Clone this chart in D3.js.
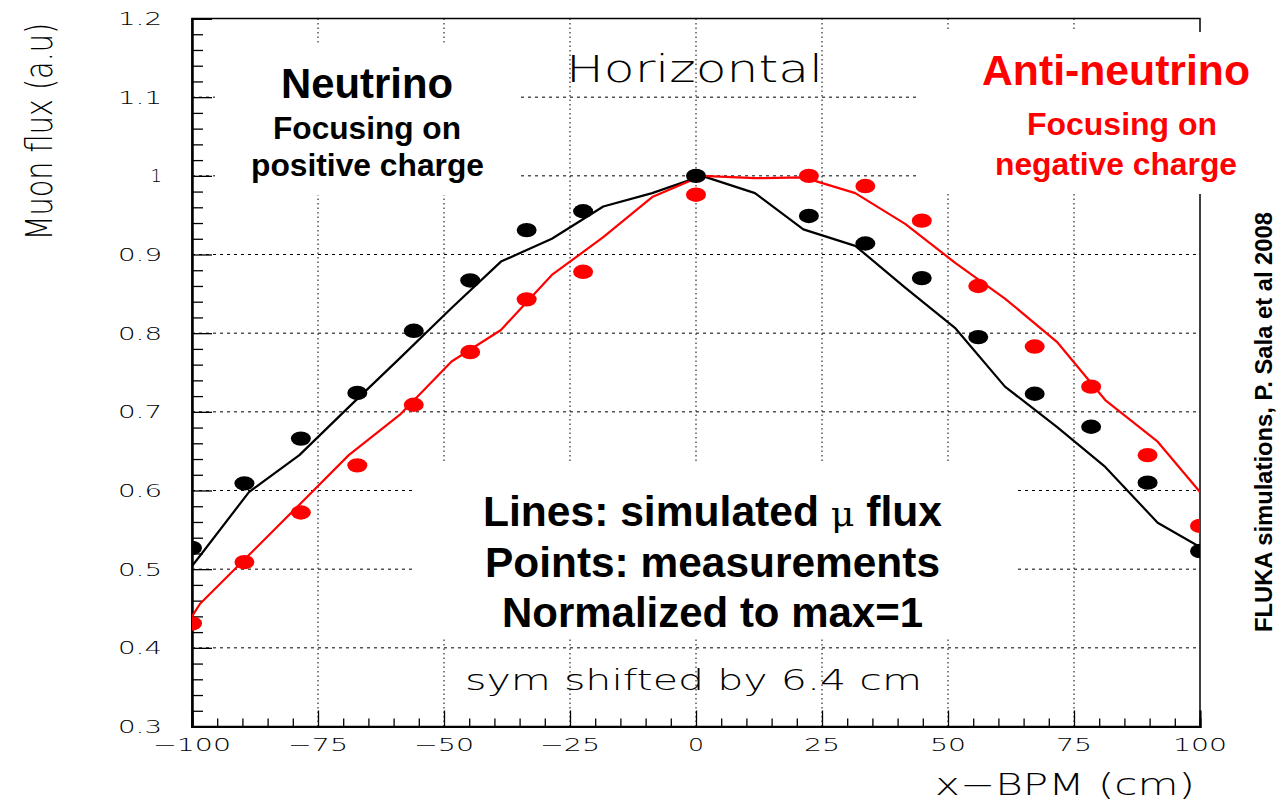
<!DOCTYPE html>
<html>
<head>
<meta charset="utf-8">
<script src="https://cdn.jsdelivr.net/npm/d3@7"></script>
<style>
html,body{margin:0;padding:0;background:#fff;}
svg{display:block;}
</style>
</head>
<body>
<svg id="chart" width="1278" height="804"></svg>
<script>
// ---------------- data ----------------
const pointX = [-100, -89.6, -78.4, -67.2, -56, -44.8, -33.6, -22.4, 0, 22.4, 33.6, 44.8, 56, 67.2, 78.4, 89.6, 100];
const neutrinoPoints = [0.527, 0.609, 0.666, 0.724, 0.803, 0.867, 0.931, 0.955, 1.0, 0.949, 0.914, 0.870, 0.795, 0.723, 0.681, 0.610, 0.523];
const antiNeutrinoPoints = [0.431, 0.509, 0.572, 0.632, 0.709, 0.776, 0.843, 0.878, 0.976, 1.0, 0.987, 0.943, 0.860, 0.783, 0.732, 0.645, 0.555];

const simX = [-100, -98.4, -88.7, -78.7, -68.9, -58.8, -48.5, -38.7, -28.6, -18.4, -8.7, 1.2, 11.7, 21.3, 31.6, 41.5, 51.5, 61.3, 71.6, 81.2, 91.6, 100];
const neutrinoSim = [0.504, 0.517, 0.598, 0.645, 0.706, 0.768, 0.832, 0.891, 0.920, 0.961, 0.978, 1.0, 0.978, 0.932, 0.911, 0.858, 0.806, 0.732, 0.681, 0.630, 0.559, 0.528];
const antiNeutrinoSim = [0.440, 0.456, 0.518, 0.582, 0.645, 0.696, 0.764, 0.804, 0.874, 0.922, 0.973, 1.0, 0.997, 0.998, 0.978, 0.939, 0.889, 0.844, 0.789, 0.715, 0.662, 0.598];

const xTickValues = [-100, -75, -50, -25, 0, 25, 50, 75, 100];
const xTickLabels = ["\u2212100", "\u221275", "\u221250", "\u221225", "0", "25", "50", "75", "100"];
const yTickValues = [0.3, 0.4, 0.5, 0.6, 0.7, 0.8, 0.9, 1.0, 1.1, 1.2];
const yTickLabels = ["0.3", "0.4", "0.5", "0.6", "0.7", "0.8", "0.9", "1", "1.1", "1.2"];

// ---------------- layout ----------------
const svg = d3.select("#chart");
const L = 192, R = 1200, T = 18.5, B = 726.5;
const x = d3.scaleLinear().domain([-100, 100]).range([L, R]);
const y = d3.scaleLinear().domain([0.3, 1.2]).range([B, T]);

svg.append("defs").append("clipPath").attr("id", "plotclip")
  .append("rect").attr("x", L).attr("y", T).attr("width", R - L).attr("height", B - T);

// grid
const grid = svg.append("g");
grid.selectAll("line.v").data(xTickValues.slice(1, -1)).join("line")
  .attr("x1", d => x(d)).attr("x2", d => x(d)).attr("y1", T).attr("y2", B)
  .attr("stroke", "#000").attr("stroke-width", 1).attr("stroke-dasharray", "1.5,3");
grid.selectAll("line.h").data(yTickValues.slice(1, -1)).join("line")
  .attr("x1", L).attr("x2", R).attr("y1", d => y(d)).attr("y2", d => y(d))
  .attr("stroke", "#000").attr("stroke-width", 1).attr("stroke-dasharray", "3,4");

// frame
svg.append("rect").attr("x", L).attr("y", T).attr("width", R - L).attr("height", B - T)
  .attr("fill", "none").attr("stroke", "#000").attr("stroke-width", 1.5);

// axes (ticks only; labels drawn separately)
const xMinor = d3.range(-100, 100.1, 5).filter(v => v % 25 !== 0);
const yMinor = d3.range(0, 46).map(i => +(0.3 + i * 0.02).toFixed(2)).filter(v => Math.abs(v * 10 - Math.round(v * 10)) > 1e-6);

const ax = svg.append("g").attr("transform", `translate(0,${B})`);
ax.call(d3.axisBottom(x).tickValues(xTickValues).tickSize(-16).tickFormat(""));
ax.append("g").call(d3.axisBottom(x).tickValues(xMinor).tickSize(-8).tickFormat(""));
ax.selectAll(".domain").attr("stroke-width", 2);
ax.selectAll("line").attr("stroke-width", 1.3);

const ay = svg.append("g").attr("transform", `translate(${L},0)`);
ay.call(d3.axisLeft(y).tickValues(yTickValues).tickSize(-20).tickFormat(""));
ay.append("g").call(d3.axisLeft(y).tickValues(yMinor).tickSize(-11).tickFormat(""));
ay.selectAll(".domain").attr("stroke-width", 2);
ay.selectAll("line").attr("stroke-width", 1.3);

// tick labels
const tickFont = "'DejaVu Sans', sans-serif";
svg.append("g").selectAll("text").data(xTickValues).join("text")
  .attr("x", d => x(d)).attr("y", 750.5)
  .attr("text-anchor", "middle")
  .attr("font-family", tickFont).attr("font-size", 18).attr("font-weight", 300)
  .attr("textLength", (d, i) => {
    const s = xTickLabels[i];
    let w = 0;
    for (const c of s) w += (c === "\u2212" ? 24 : 18);
    return s === "0" ? 16 : w;
  })
  .attr("lengthAdjust", "spacingAndGlyphs")
  .text((d, i) => xTickLabels[i]);

svg.append("g").selectAll("text").data(yTickValues).join("text")
  .attr("x", 162).attr("y", d => y(d) + 6.5)
  .attr("text-anchor", "end")
  .attr("font-family", tickFont).attr("font-size", 18).attr("font-weight", 300)
  .each(function (d, i) {
    const s = yTickLabels[i];
    if (s.length > 1) d3.select(this).attr("textLength", 44).attr("lengthAdjust", "spacingAndGlyphs");
  })
  .text((d, i) => yTickLabels[i]);

// white label boxes
const boxes = [
  {x: 215, y: 45, w: 305, h: 150},
  {x: 917, y: 32, w: 350, h: 162},
  {x: 415, y: 462, w: 600, h: 176}
];
svg.append("g").selectAll("rect").data(boxes).join("rect")
  .attr("x", d => d.x).attr("y", d => d.y).attr("width", d => d.w).attr("height", d => d.h)
  .attr("fill", "#fff");

// data
const plot = svg.append("g").attr("clip-path", "url(#plotclip)");
const line = d3.line().x(d => x(d[0])).y(d => y(d[1]));
const series = [
  {sim: neutrinoSim, pts: neutrinoPoints, color: "#000"},
  {sim: antiNeutrinoSim, pts: antiNeutrinoPoints, color: "#ff0000"}
];
series.forEach(s => {
  plot.append("path").datum(simX.map((v, i) => [v, s.sim[i]]))
    .attr("d", line).attr("fill", "none").attr("stroke", s.color)
    .attr("stroke-width", 2.2).attr("stroke-linejoin", "round");
});
series.forEach(s => {
  plot.append("g").selectAll("ellipse").data(pointX.map((v, i) => [v, s.pts[i]])).join("ellipse")
    .attr("cx", d => x(d[0])).attr("cy", d => y(d[1]))
    .attr("rx", 10).attr("ry", 7.2).attr("fill", s.color);
});

// texts
const bold = "'Liberation Sans', Arial, Helvetica, sans-serif";
function txt(t, xx, yy, size, opts = {}) {
  const e = svg.append("text").attr("x", xx).attr("y", yy)
    .attr("font-family", opts.family || bold)
    .attr("font-size", size)
    .attr("font-weight", opts.weight || "bold")
    .attr("fill", opts.color || "#000")
    .attr("text-anchor", opts.anchor || "start");
  if (opts.len) e.attr("textLength", opts.len).attr("lengthAdjust", "spacingAndGlyphs");
  if (opts.rotate) e.attr("transform", `rotate(-90,${xx},${yy})`);
  e.text(t);
  return e;
}

txt("Neutrino", 281, 98, 42, {len: 172});
txt("Focusing on", 273, 139, 31, {len: 188});
txt("positive charge", 251, 176, 31, {len: 233});

txt("Anti-neutrino", 982, 85, 42.5, {len: 268, color: "#ff0000"});
txt("Focusing on", 1027, 135, 31, {len: 190, color: "#ff0000"});
txt("negative charge", 995, 175, 31, {len: 242, color: "#ff0000"});

txt("Horizontal", 566, 81.5, 37, {len: 257, family: "'DejaVu Sans', sans-serif", weight: 200});

const l1 = txt("", 483, 526, 42, {len: 459});
l1.append("tspan").text("Lines: simulated ");
l1.append("tspan").attr("font-family", "'DejaVu Serif', serif").attr("font-weight", "normal").attr("font-size", 36).text("\u03bc");
l1.append("tspan").text(" flux");
txt("Points: measurements", 485, 576.5, 42, {len: 455});
txt("Normalized to max=1", 502, 626.5, 42, {len: 421});

txt("sym shifted by 6.4 cm", 465, 690, 29, {len: 457, family: "'DejaVu Sans', sans-serif", weight: 300});

txt("FLUKA simulations, P. Sala et al 2008", 1272, 422, 23, {len: 420, anchor: "middle", rotate: true});

// y-axis title: rotated and compressed along its length with a transform
svg.append("text")
  .attr("transform", "translate(52,131.5) rotate(-90) scale(0.755,1)")
  .attr("text-anchor", "middle")
  .attr("font-family", "'DejaVu Sans', sans-serif").attr("font-weight", 300)
  .attr("font-size", 38).attr("fill", "#000")
  .text("Muon flux (a.u)");

txt("x\u2212BPM (cm)", 935, 795, 30, {len: 260, family: "'DejaVu Sans', sans-serif", weight: 300});
</script>
</body>
</html>
